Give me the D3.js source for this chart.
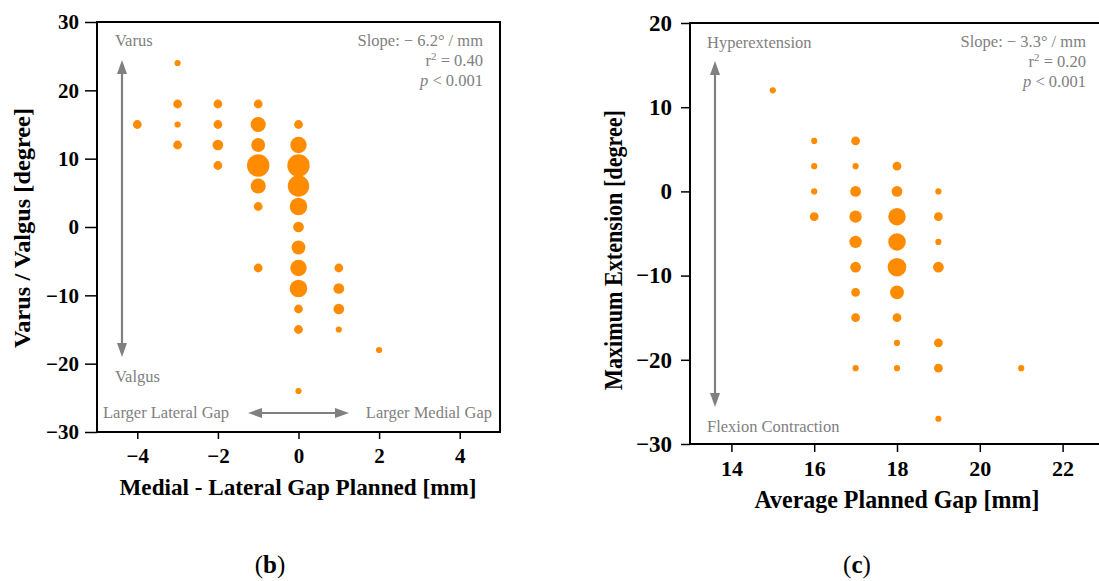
<!DOCTYPE html>
<html><head><meta charset="utf-8">
<script src="https://cdn.jsdelivr.net/npm/d3@7"></script>
<style>body{margin:0;background:#fff;} svg{display:block;}</style>
</head><body>
<svg id="chart" width="1099" height="581"></svg>
<script>
// ---- data ----
// panel (b): Medial-Lateral gap planned [mm] vs varus/valgus [deg], count per cell
const bX = [-4,-3,-3,-3,-3,-2,-2,-2,-2,-1,-1,-1,-1,-1,-1,-1,0,0,0,0,0,0,0,0,0,0,0,0,1,1,1,1,2];
const bY = [15,24,18,15,12,18,15,12,9,18,15,12,9,6,3,-6,15,12,9,6,3,0,-3,-6,-9,-12,-15,-24,-6,-9,-12,-15,-18];
const bN = [2,1,2,1,2,2,2,3,2,2,6,5,13,6,2,2,2,7,13,12,8,3,5,7,8,2,2,1,2,3,3,1,1];
// panel (c): average planned gap [mm] vs maximum extension [deg]
const cX = [15,16,16,16,16,17,17,17,17,17,17,17,17,17,18,18,18,18,18,18,18,18,18,19,19,19,19,19,19,19,21];
const cY = [12,6,3,0,-3,6,3,0,-3,-6,-9,-12,-15,-21,3,0,-3,-6,-9,-12,-15,-18,-21,0,-3,-6,-9,-18,-21,-27,-21];
const cN = [1,1,1,1,2,2,1,3,4,4,3,2,2,1,2,3,8,8,9,5,2,1,1,1,2,1,3,2,2,1,1];
const bXTicks = [-4,-2,0,2,4];
const bYTicks = [-30,-20,-10,0,10,20,30];
const cXTicks = [14,16,18,20,22];
const cYTicks = [-30,-20,-10,0,10,20];

const svg = d3.select("#chart");
const ORANGE = "#ff8c00", GRAY = "#808080";
const SERIF = "'Liberation Serif','Times New Roman',serif";
const rScale = d3.scaleSqrt().domain([0,1]).range([0,3.1]);
const fmt = d=>d<0?"\u2212"+(-d):d;

function panel(cfg){
  const g = svg.append("g");
  const x = d3.scaleLinear().domain(cfg.xd).range([cfg.left, cfg.right]);
  const y = d3.scaleLinear().domain(cfg.yd).range([cfg.bottom, cfg.top]);
  const pts = cfg.xs.map((v,i)=>({x:v,y:cfg.ys[i],n:cfg.ns[i]}));
  g.append("g").selectAll("circle").data(pts).join("circle")
    .attr("cx",d=>x(d.x)).attr("cy",d=>y(d.y)).attr("r",d=>rScale(d.n))
    .attr("fill",ORANGE);
  const ax = g.append("g").attr("transform",`translate(0,${cfg.bottom})`)
    .call(d3.axisBottom(x).tickValues(cfg.xt).tickSize(cfg.xts).tickPadding(cfg.xtp).tickFormat(fmt));
  const ay = g.append("g").attr("transform",`translate(${cfg.left},0)`)
    .call(d3.axisLeft(y).tickValues(cfg.yt).tickSize(cfg.yts).tickPadding(cfg.ytp).tickFormat(fmt));
  [[ax,cfg.xfs],[ay,cfg.yfs]].forEach(([a,fs])=>{
    a.select(".domain").remove();
    a.selectAll(".tick line").attr("stroke","#000").attr("stroke-width",1.5);
    a.selectAll("text").attr("font-family",SERIF).attr("font-weight","bold").attr("font-size",fs).attr("fill","#000");
  });
  g.append("rect").attr("x",cfg.left).attr("y",cfg.top)
    .attr("width",cfg.right-cfg.left).attr("height",cfg.bottom-cfg.top)
    .attr("fill","none").attr("stroke","#000").attr("stroke-width",2);
  g.append("text").attr("x",cfg.xlx).attr("y",cfg.xly).attr("text-anchor","middle")
    .attr("textLength",cfg.xlw).attr("lengthAdjust","spacingAndGlyphs")
    .attr("font-family",SERIF).attr("font-weight","bold").attr("font-size",cfg.lfs).text(cfg.xlabel);
  g.append("text").attr("transform",`translate(${cfg.ylx},${cfg.ylc}) rotate(-90)`)
    .attr("text-anchor","middle").attr("dy","0.35em")
    .attr("textLength",cfg.ylw).attr("lengthAdjust","spacingAndGlyphs")
    .attr("font-family",SERIF).attr("font-weight","bold").attr("font-size",cfg.lfs).text(cfg.ylabel);
  const st = g.append("g").attr("font-family",SERIF).attr("font-size",16.5).attr("fill",GRAY).attr("text-anchor","end");
  st.append("text").attr("x",cfg.statX).attr("y",cfg.top+24).text(cfg.slope);
  const rt = st.append("text").attr("x",cfg.statX).attr("y",cfg.top+43.5);
  rt.append("tspan").text("r");
  rt.append("tspan").attr("font-size",11).attr("dy",-6).text("2");
  rt.append("tspan").attr("dy",6).text(" = "+cfg.r2);
  const pt = st.append("text").attr("x",cfg.statX).attr("y",cfg.top+63.5);
  pt.append("tspan").attr("font-style","italic").text("p");
  pt.append("tspan").text(" < 0.001");
  return {g,x,y};
}

function arrowV(g,x,y1,y2){
  g.append("line").attr("x1",x).attr("x2",x).attr("y1",y1+10).attr("y2",y2-10)
    .attr("stroke",GRAY).attr("stroke-width",2.2);
  g.append("path").attr("d",`M${x},${y1}L${x-5},${y1+14}L${x+5},${y1+14}Z`).attr("fill",GRAY);
  g.append("path").attr("d",`M${x},${y2}L${x-5},${y2-14}L${x+5},${y2-14}Z`).attr("fill",GRAY);
}
function arrowH(g,x1,x2,y){
  g.append("line").attr("x1",x1+10).attr("x2",x2-10).attr("y1",y).attr("y2",y)
    .attr("stroke",GRAY).attr("stroke-width",2.2);
  g.append("path").attr("d",`M${x1},${y}L${x1+14},${y-5}L${x1+14},${y+5}Z`).attr("fill",GRAY);
  g.append("path").attr("d",`M${x2},${y}L${x2-14},${y-5}L${x2-14},${y+5}Z`).attr("fill",GRAY);
}
function note(g,x,y,t,anchor){
  g.append("text").attr("x",x).attr("y",y).attr("text-anchor",anchor||"start")
    .attr("font-family",SERIF).attr("font-size",16.5).attr("fill",GRAY).text(t);
}

// panel b
const pb = panel({xd:[-5,5],yd:[-30,30],left:97,right:500,top:22,bottom:432,
  xs:bX,ys:bY,ns:bN,xt:bXTicks,yt:bYTicks,
  xts:7,xtp:9,xfs:21,yts:12,ytp:6,yfs:21,lfs:24,
  xlabel:"Medial - Lateral Gap Planned [mm]",xlx:298,xly:495,xlw:357,
  ylabel:"Varus / Valgus [degree]",ylx:22,ylc:228,ylw:240,
  statX:483,slope:"Slope: \u2212 6.2\u00B0 / mm",r2:"0.40"});
note(pb.g,115,46,"Varus");
note(pb.g,115,382,"Valgus");
arrowV(pb.g,122,60,357);
note(pb.g,103,418,"Larger Lateral Gap");
note(pb.g,492,418,"Larger Medial Gap","end");
arrowH(pb.g,248,349,413);

// panel c
const pc = panel({xd:[13,23],yd:[-30,20],left:690,right:1104,top:23,bottom:444,
  xs:cX,ys:cY,ns:cN,xt:cXTicks,yt:cYTicks,
  xts:8,xtp:8,xfs:22,yts:9,ytp:9,yfs:23,lfs:25,
  xlabel:"Average Planned Gap [mm]",xlx:897,xly:508,xlw:285,
  ylabel:"Maximum Extension [degree]",ylx:613,ylc:250,ylw:280,
  statX:1086,slope:"Slope: \u2212 3.3\u00B0 / mm",r2:"0.20"});
note(pc.g,707,48,"Hyperextension");
note(pc.g,707,432,"Flexion Contraction");
arrowV(pc.g,715,61,407);

// captions
svg.append("text").attr("x",270).attr("y",573).attr("text-anchor","middle")
  .attr("font-family",SERIF).attr("font-size",25).html("(<tspan font-weight='bold'>b</tspan>)");
svg.append("text").attr("x",857).attr("y",573).attr("text-anchor","middle")
  .attr("font-family",SERIF).attr("font-size",25).html("(<tspan font-weight='bold'>c</tspan>)");
</script>
</body></html>
